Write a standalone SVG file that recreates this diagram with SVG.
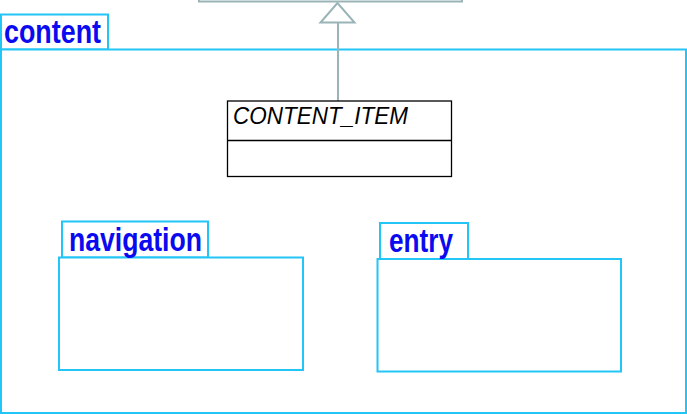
<svg xmlns="http://www.w3.org/2000/svg" width="687" height="414" viewBox="0 0 687 414">
<style>
.pkg{fill:#fff;stroke:#22c5f5;stroke-width:2}
.pkgl{font-family:"Liberation Sans",Arial,sans-serif;font-weight:bold;font-size:33px;fill:#0a0af0}
.cls{fill:#fff;stroke:#000;stroke-width:1.3}
.clsl{font-family:"Liberation Sans",Arial,sans-serif;font-style:italic;font-size:23.5px;fill:#000}
.gen{fill:none;stroke:#9ab4b8;stroke-width:2}
</style>
<rect width="687" height="414" fill="#fff"/>
<g id="parent-class">
<rect class="gen" x="199" y="-20" width="263" height="21.5" stroke-width="2.5"/>
</g>
<g id="content">
<rect class="pkg" x="1" y="14.5" width="107" height="35" stroke-width="1.6"/>
<rect class="pkg" x="1" y="49.5" width="685" height="363.5" stroke-width="1.6"/>
<text class="pkgl" x="4" y="43" textLength="97" lengthAdjust="spacingAndGlyphs">content</text>
</g>
<g id="connectors">
<line class="gen" x1="338" y1="23" x2="338" y2="101"/>
<polygon class="gen" points="337.5,3 320.5,22.5 354.5,22.5" fill="#fff"/>
</g>
<g id="content-item">
<rect class="cls" x="227.5" y="101" width="224" height="75.5"/>
<line class="cls" x1="227.5" y1="140.5" x2="451.5" y2="140.5"/>
<text class="clsl" x="233" y="124" textLength="175" lengthAdjust="spacingAndGlyphs">CONTENT_ITEM</text>
</g>
<g id="navigation">
<rect class="pkg" x="62" y="221.5" width="146" height="36"/>
<rect class="pkg" x="59" y="257.5" width="244" height="112.5"/>
<text class="pkgl" x="69" y="251" textLength="133" lengthAdjust="spacingAndGlyphs">navigation</text>
</g>
<g id="entry">
<rect class="pkg" x="380" y="223" width="88" height="36"/>
<rect class="pkg" x="377.5" y="259" width="243.5" height="112.5"/>
<text class="pkgl" x="389" y="252" textLength="64" lengthAdjust="spacingAndGlyphs">entry</text>
</g>
</svg>
